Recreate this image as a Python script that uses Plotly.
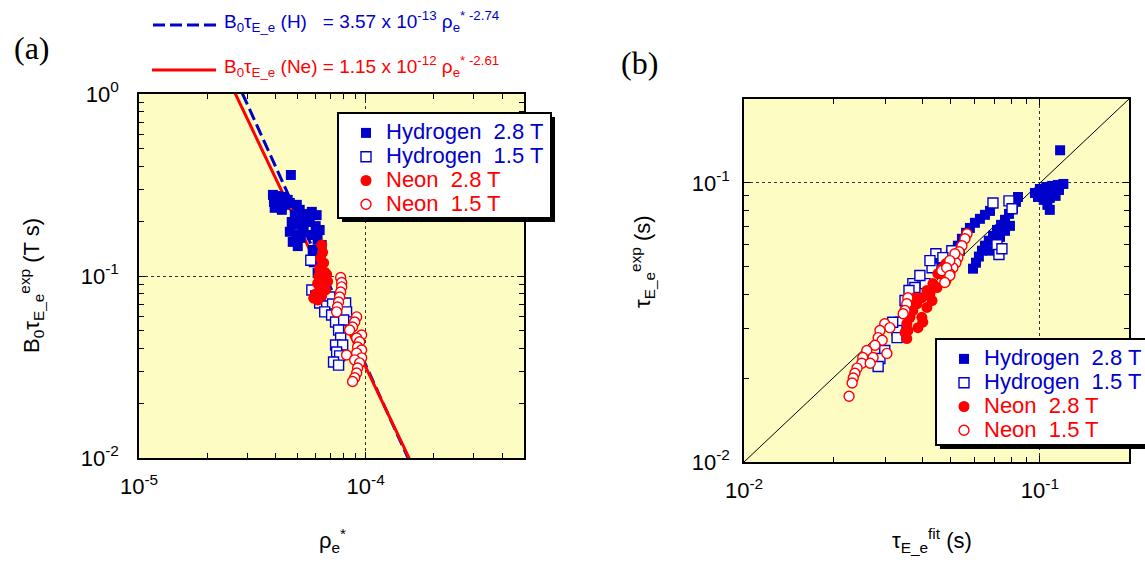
import plotly.graph_objects as go

W, H = 1145, 563
FONT = "Liberation Sans"
BLUE = "#0000CC"
RED = "#FF0000"
BG = "#FDFDC3"

# ---------------- Panel (a): B0*tau_E_e^exp vs rho_e* ----------------
a_h28_x = [4.68e-5, 3.90e-5, 4.10e-5, 4.31e-5, 4.53e-5, 3.94e-5, 4.14e-5, 4.40e-5, 4.63e-5, 3.97e-5, 4.27e-5,
           4.97e-5, 5.12e-5, 4.87e-5, 5.23e-5, 4.72e-5, 5.02e-5, 5.33e-5, 4.63e-5, 4.92e-5, 5.17e-5, 4.77e-5,
           5.02e-5, 5.28e-5, 5.44e-5,
           5.79e-5, 6.08e-5, 5.67e-5, 6.02e-5, 6.27e-5, 5.79e-5, 6.14e-5, 6.40e-5, 5.84e-5, 6.21e-5, 5.90e-5,
           6.33e-5, 6.14e-5]
a_h28_y = [0.359, 0.279, 0.275, 0.272, 0.262, 0.255, 0.249, 0.246, 0.252, 0.237, 0.231,
           0.246, 0.231, 0.216, 0.208, 0.198, 0.191, 0.184, 0.175, 0.168, 0.162, 0.154,
           0.146, 0.175, 0.219,
           0.225, 0.216, 0.198, 0.188, 0.179, 0.168, 0.158, 0.148, 0.139, 0.130, 0.119,
           0.110, 0.104]

a_h15_x = [5.73e-5, 5.79e-5, 6.02e-5, 6.40e-5, 6.94e-5, 6.27e-5, 6.73e-5, 7.15e-5, 8.16e-5, 6.60e-5, 7.08e-5,
           8.24e-5, 7.37e-5, 8.00e-5, 7.60e-5, 7.76e-5, 7.37e-5, 7.92e-5, 7.45e-5, 7.68e-5, 7.22e-5, 7.60e-5]
a_h15_y = [0.122, 0.0838, 0.0777, 0.0757, 0.0767, 0.0711, 0.0684, 0.0702, 0.0711, 0.0635, 0.0611,
           0.0635, 0.0559, 0.0573, 0.0505, 0.0456, 0.0418, 0.0418, 0.0382, 0.0364, 0.0337, 0.0324]

a_ne28_x = [6.40e-5, 6.46e-5, 6.33e-5, 6.53e-5, 6.27e-5, 6.60e-5, 6.21e-5, 6.46e-5, 6.73e-5, 6.14e-5,
            6.53e-5, 6.80e-5, 6.27e-5, 6.66e-5, 6.02e-5, 6.40e-5, 5.90e-5, 6.14e-5]
a_ne28_y = [0.148, 0.135, 0.125, 0.118, 0.110, 0.105, 0.0994, 0.0957, 0.102, 0.0910,
            0.0893, 0.0933, 0.0838, 0.0838, 0.0797, 0.0777, 0.0757, 0.0738]

a_ne15_x = [7.76e-5, 7.84e-5, 7.84e-5, 7.76e-5, 7.68e-5, 7.60e-5, 7.52e-5, 7.45e-5, 9.13e-5, 8.95e-5,
            8.76e-5, 8.50e-5, 9.60e-5, 9.13e-5, 9.41e-5, 9.22e-5, 9.60e-5, 9.13e-5, 8.24e-5, 9.60e-5,
            8.95e-5, 9.41e-5, 9.22e-5, 9.13e-5, 8.95e-5, 8.76e-5]
a_ne15_y = [0.0981, 0.0921, 0.0871, 0.0817, 0.0767, 0.0720, 0.0676, 0.0635, 0.0596, 0.0559,
            0.0525, 0.0505, 0.0474, 0.0456, 0.0435, 0.0407, 0.0392, 0.0377, 0.0368, 0.0355,
            0.0346, 0.0333, 0.0312, 0.0293, 0.0276, 0.0263]

# fit laws shown in the chart's header
fit_h_coef, fit_h_exp = 3.57e-13, -2.74
fit_ne_coef, fit_ne_exp = 1.15e-12, -2.61
rho_fit = [2.0e-5, 2.0e-4]

# ---------------- Panel (b): tau_E_e^exp vs tau_E_e^fit ----------------
b_h28_x = [0.117, 0.0962, 0.100, 0.105, 0.110, 0.115, 0.120, 0.0985, 0.104, 0.110, 0.116, 0.103, 0.108,
           0.113, 0.106, 0.108,
           0.0528, 0.0545, 0.0563, 0.0580, 0.0603, 0.0627, 0.0652, 0.0678, 0.0537, 0.0516,
           0.0594, 0.0608, 0.0622, 0.0637, 0.0652, 0.0672, 0.0694, 0.0716, 0.0739, 0.0762, 0.0786,
           0.0811, 0.0830, 0.0843, 0.0678, 0.0710, 0.0733, 0.0762, 0.0792,
           0.0459, 0.0481, 0.0500]
b_h28_y = [0.131, 0.0921, 0.0952, 0.0968, 0.0976, 0.0984, 0.0992, 0.0891, 0.0914, 0.0929, 0.0944, 0.0870, 0.0884,
           0.0899, 0.0835, 0.0801,
           0.0596, 0.0631, 0.0663, 0.0690, 0.0720, 0.0744, 0.0769, 0.0794, 0.0572, 0.0563,
           0.0493, 0.0518, 0.0545, 0.0572, 0.0596, 0.0621, 0.0647, 0.0679, 0.0708, 0.0738, 0.0775,
           0.0814, 0.0856, 0.0891, 0.0572, 0.0606, 0.0641, 0.0674, 0.0702,
           0.0518, 0.0536, 0.0554]

b_h15_x = [0.0694, 0.0786, 0.0805, 0.0716, 0.0727, 0.0445, 0.0432, 0.0372, 0.0504, 0.0409, 0.0378,
           0.0361, 0.0353, 0.0337, 0.0329, 0.0329, 0.0318, 0.0299, 0.0288, 0.0284, 0.0470, 0.0425,
           0.0393, 0.0350, 0.0744]
b_h15_y = [0.0848, 0.0863, 0.0808, 0.0601, 0.0554, 0.0558, 0.0497, 0.0436, 0.0572, 0.0436, 0.0422,
           0.0412, 0.0349, 0.0317, 0.0296, 0.0279, 0.0317, 0.0251, 0.0235, 0.0220, 0.0540, 0.0527,
           0.0466, 0.0379, 0.0581]

b_ne28_x = [0.0481, 0.0452, 0.0435, 0.0415, 0.0399, 0.0384, 0.0372, 0.0364, 0.0355, 0.0350, 0.0355,
            0.0402, 0.0415, 0.0432, 0.0449, 0.0387, 0.0358, 0.0466, 0.0425, 0.0399, 0.0378, 0.0459]
b_ne28_y = [0.0514, 0.0473, 0.0436, 0.0412, 0.0388, 0.0369, 0.0349, 0.0330, 0.0313, 0.0291, 0.0277,
            0.0317, 0.0358, 0.0379, 0.0422, 0.0303, 0.0296, 0.0493, 0.0401, 0.0330, 0.0388, 0.0473]

b_ne15_x = [0.0567, 0.0558, 0.0545, 0.0533, 0.0528, 0.0520, 0.0508, 0.0496, 0.0481, 0.0466, 0.0516,
            0.0496, 0.0484, 0.0496, 0.0477, 0.0358, 0.0355, 0.0350, 0.0345, 0.0299, 0.0311, 0.0288,
            0.0284, 0.0293, 0.0277, 0.0304, 0.0260, 0.0252, 0.0250, 0.0241, 0.0237, 0.0234, 0.0232,
            0.02265, 0.0273, 0.0267]
b_ne15_y = [0.0658, 0.0631, 0.0596, 0.0567, 0.0540, 0.0518, 0.0497, 0.0473, 0.0447, 0.0485, 0.0558,
            0.0527, 0.0497, 0.0466, 0.0440, 0.0388, 0.0369, 0.0349, 0.0340, 0.0313, 0.0303, 0.0296,
            0.0279, 0.0273, 0.0262, 0.0245, 0.0251, 0.0237, 0.0226, 0.0217, 0.0208, 0.0200, 0.0192,
            0.0172, 0.0237, 0.0226]

diag = [0.01, 0.2]

series_names = ["Hydrogen\u00a0 2.8 T", "Hydrogen\u00a0 1.5 T", "Neon\u00a0 2.8 T", "Neon\u00a0 1.5 T"]
series_colors = [BLUE, BLUE, RED, RED]


# --------------- helpers for layout positions (pixels -> paper) ---------------
def fx(p):
    return p / W


def fy(p):
    return 1 - p / H


styles = [
    dict(symbol="square", size=10, color=BLUE, line=dict(color=BLUE, width=0)),
    dict(symbol="square", size=10, color="white", line=dict(color=BLUE, width=1.4)),
    dict(symbol="circle", size=11, color=RED, line=dict(color=RED, width=0)),
    dict(symbol="circle", size=10, color="white", line=dict(color=RED, width=1.4)),
]

fig = go.Figure()

# fit lines (panel a)
fig.add_trace(go.Scatter(x=rho_fit, y=[fit_h_coef * r ** fit_h_exp for r in rho_fit], mode="lines",
                         line=dict(color=BLUE, width=3, dash="12px,5px"), showlegend=False,
                         xaxis="x", yaxis="y", hoverinfo="skip"))
fig.add_trace(go.Scatter(x=rho_fit, y=[fit_ne_coef * r ** fit_ne_exp for r in rho_fit], mode="lines",
                         line=dict(color=RED, width=3), showlegend=False,
                         xaxis="x", yaxis="y", hoverinfo="skip"))
# diagonal (panel b)
fig.add_trace(go.Scatter(x=diag, y=diag, mode="lines", line=dict(color="black", width=1),
                         showlegend=False, xaxis="x2", yaxis="y2", hoverinfo="skip"))

a_sets = [(a_h28_x, a_h28_y), (a_h15_x, a_h15_y), (a_ne28_x, a_ne28_y), (a_ne15_x, a_ne15_y)]
b_sets = [(b_h28_x, b_h28_y), (b_h15_x, b_h15_y), (b_ne28_x, b_ne28_y), (b_ne15_x, b_ne15_y)]

for i, (xs, ys) in enumerate(a_sets):
    fig.add_trace(go.Scatter(
        x=xs, y=ys, mode="markers", marker=styles[i], xaxis="x", yaxis="y",
        name=f'<span style="color:{series_colors[i]};font-size:22px">{series_names[i]}</span>',
        legend="legend"))
for i, (xs, ys) in enumerate(b_sets):
    fig.add_trace(go.Scatter(
        x=xs, y=ys, mode="markers", marker=styles[i], xaxis="x2", yaxis="y2",
        name=f'<span style="color:{series_colors[i]};font-size:22px">{series_names[i]}</span>',
        legend="legend2"))


def minor_vals(decades, lo, hi):
    return [m * 10.0 ** k for k in decades for m in range(2, 10) if lo <= m * 10.0 ** k <= hi]


def log_axis(domain, rng, tickvals, ticktext, minvals, anchor, standoff):
    return dict(
        type="log", domain=domain, range=rng, anchor=anchor, automargin=False,
        showline=True, linecolor="black", linewidth=1.5, mirror="ticks",
        ticks="inside", ticklen=6, tickwidth=1, tickcolor="black",
        tickmode="array", tickvals=tickvals, ticktext=ticktext,
        tickfont=dict(family=FONT, size=22, color="black"),
        ticklabelstandoff=standoff,
        showgrid=True, gridcolor="#333333", griddash="dot", gridwidth=1,
        zeroline=False,
        minor=dict(tickmode="array", tickvals=minvals, ticks="inside", ticklen=5,
                   tickcolor="black", showgrid=False),
    )


# panel geometry in pixels
A_L, A_R, A_T, A_B = 139, 524, 94, 458
B_L, B_R, B_T, B_B = 744, 1129, 99, 462

fig.update_layout(
    width=W, height=H, margin=dict(l=0, r=0, t=0, b=0, autoexpand=False),
    paper_bgcolor="white", plot_bgcolor=BG,
    font=dict(family=FONT, size=22, color="black"),
    xaxis=log_axis([fx(A_L), fx(A_R)], [-5, -3.30103], [1e-5, 1e-4],
                   ["10<sup>-5</sup>", "10<sup>-4</sup>"],
                   minor_vals([-5, -4], 1e-5, 5e-4), "y", 8),
    yaxis=log_axis([fy(A_B), fy(A_T)], [-2, 0], [0.01, 0.1, 1],
                   ["10<sup>-2</sup>", "10<sup>-1</sup>", "10<sup>0</sup>"],
                   minor_vals([-2, -1], 0.01, 1), "x", 14),
    xaxis2=log_axis([fx(B_L), fx(B_R)], [-2, -0.69897], [0.01, 0.1],
                    ["10<sup>-2</sup>", "10<sup>-1</sup>"],
                    minor_vals([-2, -1], 0.01, 0.2), "y2", 8),
    yaxis2=log_axis([fy(B_B), fy(B_T)], [-2, -0.69897], [0.01, 0.1],
                    ["10<sup>-2</sup>", "10<sup>-1</sup>"],
                    minor_vals([-2, -1], 0.01, 0.2), "x2", 8),
    legend=dict(x=fx(346), y=fy(116), xanchor="left", yanchor="top",
                bgcolor="rgba(0,0,0,0)", borderwidth=0,
                font=dict(family=FONT, size=16), tracegroupgap=0),
    legend2=dict(x=fx(944), y=fy(342), xanchor="left", yanchor="top",
                 bgcolor="rgba(0,0,0,0)", borderwidth=0,
                 font=dict(family=FONT, size=16), tracegroupgap=0),
    showlegend=True,
)

# legend boxes with drop shadows
shapes = []
for (l, t, r, b) in [(338, 113, 551, 218), (936, 339, 1160, 445)]:
    shapes.append(dict(type="rect", xref="paper", yref="paper", layer="above",
                       x0=fx(l + 4), x1=fx(r + 4), y0=fy(b + 4), y1=fy(t + 4),
                       fillcolor="black", line=dict(width=0)))
    shapes.append(dict(type="rect", xref="paper", yref="paper", layer="above",
                       x0=fx(l), x1=fx(r), y0=fy(b), y1=fy(t),
                       fillcolor="white", line=dict(color="black", width=2)))
# header key lines
shapes.append(dict(type="line", xref="paper", yref="paper", x0=fx(153), x1=fx(216), y0=fy(25), y1=fy(25),
                   line=dict(color=BLUE, width=3, dash="12px,5px")))
shapes.append(dict(type="line", xref="paper", yref="paper", x0=fx(152), x1=fx(216), y0=fy(70), y1=fy(70),
                   line=dict(color=RED, width=3)))
fig.update_layout(shapes=shapes)


def note(text, x, y, size=22, color="black", family=FONT, angle=0, xanchor="center"):
    return dict(text=text, x=fx(x), y=fy(y), xref="paper", yref="paper", showarrow=False,
                xanchor=xanchor, yanchor="middle", textangle=angle,
                font=dict(family=family, size=size, color=color))


ann = [
    note("B<sub>0</sub>τ<sub>E_e</sub> (H)\u00a0\u00a0 = 3.57 x 10<sup>-13</sup> ρ<sub>e</sub><sup>* -2.74</sup>",
         222, 22, size=19, color=BLUE, xanchor="left"),
    note("B<sub>0</sub>τ<sub>E_e</sub> (Ne) = 1.15 x 10<sup>-12</sup> ρ<sub>e</sub><sup>* -2.61</sup>",
         222, 67, size=19, color=RED, xanchor="left"),
    note("(a)", 32, 48, size=32, family="Liberation Serif"),
    note("(b)", 639, 63, size=32, family="Liberation Serif"),
    note("B<sub>0</sub>τ<sub>E_e</sub><sup>exp</sup> (T s)", 31, 286, angle=-90),
    note("ρ<sub>e</sub><sup>*</sup>", 332, 540),
    note("τ<sub>E_e</sub><sup>fit</sup> (s)", 932, 540),
    note("τ<sub>E_e</sub><sup>exp</sup> (s)", 642, 262, angle=-90),
]
fig.update_layout(annotations=ann)

fig.write_html("out.html")
